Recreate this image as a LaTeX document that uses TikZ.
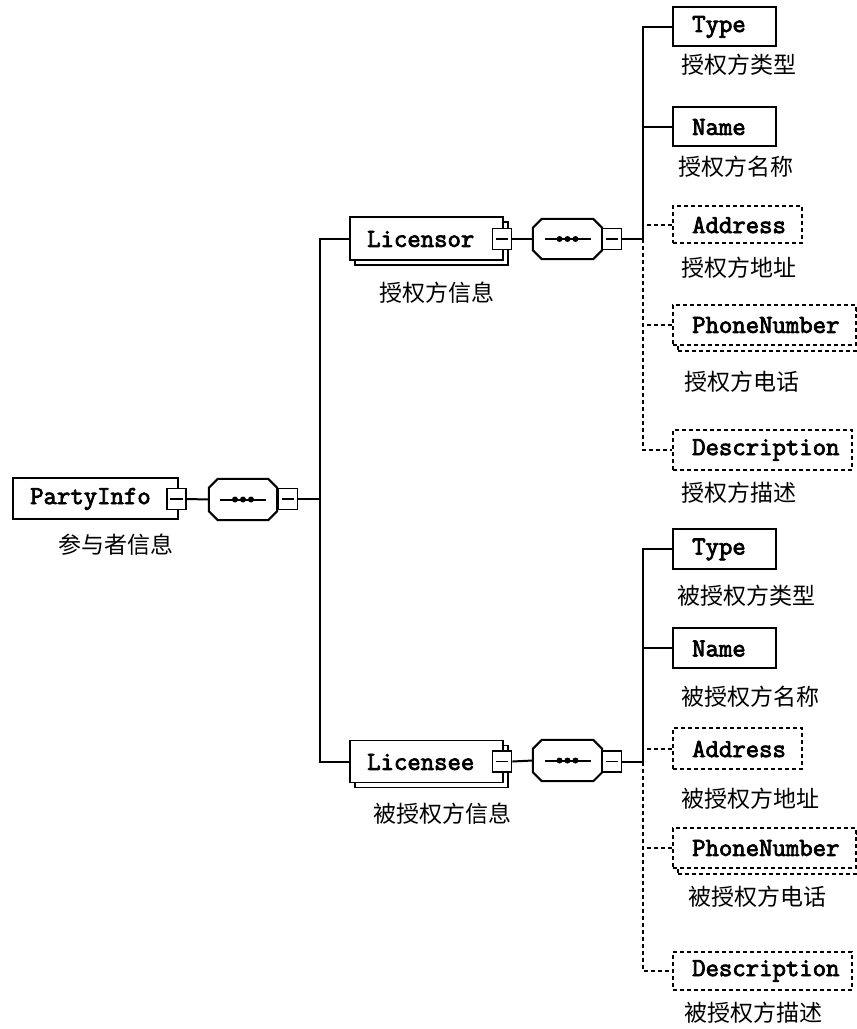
\documentclass[tikz,border=0pt]{standalone}
\usepackage{fontspec}
\newfontfamily\cjk{Noto Sans CJK SC}
\newfontfamily\elfont[FakeBold=3]{Latin Modern Mono}
\begin{document}
\begin{tikzpicture}[x=1pt,y=-1pt,
  ln/.style={line width=2pt},
  dln/.style={line width=2pt, dash pattern=on 4pt off 3pt},
  elbox/.style={draw, line width=1.8pt, fill=white, inner sep=0pt},
  optbox/.style={elbox, dash pattern=on 4pt off 3pt},
  minusbox/.style={draw, line width=1.8pt, fill=white, minimum width=19pt, minimum height=21pt, inner sep=0pt},
  area/.style={inner sep=0pt},
  elname/.style={anchor=west, inner sep=0pt, font=\elfont\fontsize{26}{26}\selectfont},
  lbl/.style={inner sep=0pt, font=\cjk\fontsize{23}{23}\selectfont}
]
\useasboundingbox (0,0) rectangle (857,1029);
\clip (0,0) rectangle (857,1029);
\newcommand\octo[1]{%
  \draw[ln,fill=white] ([xshift=9pt]#1.north west) -- ([xshift=-9pt]#1.north east) -- ([yshift=-9pt]#1.north east)
    -- ([yshift=9pt]#1.south east) -- ([xshift=-9pt]#1.south east) -- ([xshift=9pt]#1.south west)
    -- ([yshift=9pt]#1.south west) -- ([yshift=-9pt]#1.north west) -- cycle;
  \draw[ln] ([xshift=-23pt]#1.center) -- ([xshift=23pt]#1.center);
  \fill ([xshift=-8pt]#1.center) circle (3pt) (#1.center) circle (3pt) ([xshift=8pt]#1.center) circle (3pt);}
\newcommand\minus[1]{\draw[line width=1.8pt] ([xshift=4pt]#1.west) -- ([xshift=-4pt]#1.east);}

% ---------- root ----------
\node[elbox, minimum width=165pt, minimum height=41pt] (party) at (95.5,498.5) {};
\node[elname] (partyT) at (30,499) {PartyInfo};
\node[minusbox] (pm) at (176.5,499) {}; \minus{pm}
\node[area, minimum width=68pt, minimum height=41pt] (seq1) at (243,499.5) {}; \octo{seq1}
\node[minusbox] (s1m) at (288,499) {}; \minus{s1m}
\coordinate (j1) at (320,499);
\node[lbl] (partyL) at (116,545) {参与者信息};

% ---------- Licensor ----------
\node[elbox, minimum width=153pt, minimum height=43pt] (licsrS) at (431.5,243.5) {};
\node[elbox, minimum width=153pt, minimum height=43pt] (licsr) at (426.5,238.5) {};
\node[elname] (licsrT) at (367,239) {Licensor};
\node[minusbox] (lm1) at (502,239) {}; \minus{lm1}
\node[area, minimum width=69pt, minimum height=40pt] (seq2) at (567.5,239) {}; \octo{seq2}
\node[minusbox] (s2m) at (612,239) {}; \minus{s2m}
\coordinate (rt1) at (643,239);
\node[lbl] (licsrL) at (437,293) {授权方信息};

% ---------- Licensee ----------
\node[elbox, minimum width=153pt, minimum height=42pt] (licseS) at (431.5,766.5) {};
\node[elbox, minimum width=153pt, minimum height=42pt] (licse) at (426.5,761.5) {};
\node[elname] (licseT) at (367,762) {Licensee};
\node[minusbox] (lm2) at (502,761.5) {}; \minus{lm2}
\node[area, minimum width=69pt, minimum height=41pt] (seq3) at (567.5,760.5) {}; \octo{seq3}
\node[minusbox] (s3m) at (612,761.5) {}; \minus{s3m}
\coordinate (rt2) at (643,761.5);
\node[lbl] (licseL) at (442,814) {被授权方信息};

% ---------- Licensor children ----------
\node[elbox, minimum width=103pt, minimum height=39pt] (type1) at (724.5,26.5) {};
\node[elname] at (692,27) {Type};
\node[lbl] at (738.5,65) {授权方类型};
\node[elbox, minimum width=103pt, minimum height=39pt] (name1) at (724.5,126.5) {};
\node[elname] at (692,127) {Name};
\node[lbl] at (736,167) {授权方名称};
\node[optbox, minimum width=129pt, minimum height=37pt] (addr1) at (737.5,224.5) {};
\node[elname] at (692,225) {Address};
\node[lbl] at (738.5,268) {授权方地址};
\node[optbox, minimum width=183pt, minimum height=40pt] (phone1S) at (769.5,331) {};
\node[optbox, minimum width=183pt, minimum height=40pt] (phone1) at (764.5,325) {};
\node[elname] at (692,325) {PhoneNumber};
\node[lbl] at (742,382) {授权方电话};
\node[optbox, minimum width=179pt, minimum height=40pt] (desc1) at (762.5,450) {};
\node[elname] at (692,450) {Description};
\node[lbl] at (738.5,493) {授权方描述};

% ---------- Licensee children ----------
\node[elbox, minimum width=103pt, minimum height=40pt] (type2) at (724.5,549) {};
\node[elname] at (692,549.5) {Type};
\node[lbl] at (746,596) {被授权方类型};
\node[elbox, minimum width=103pt, minimum height=40pt] (name2) at (724.5,648) {};
\node[elname] at (692,648.5) {Name};
\node[lbl] at (750,697) {被授权方名称};
\node[optbox, minimum width=129pt, minimum height=41pt] (addr2) at (737.5,748.5) {};
\node[elname] at (692,749) {Address};
\node[lbl] at (750,799) {被授权方地址};
\node[optbox, minimum width=183pt, minimum height=40pt] (phone2S) at (769.5,854) {};
\node[optbox, minimum width=183pt, minimum height=40pt] (phone2) at (764.5,848) {};
\node[elname] at (692,848) {PhoneNumber};
\node[lbl] at (757,897) {被授权方电话};
\node[optbox, minimum width=179pt, minimum height=38pt] (desc2) at (762.5,971) {};
\node[elname] at (692,971) {Description};
\node[lbl] at (753,1013) {被授权方描述};

% ---------- connectors ----------
\draw[ln] (pm.east) -- (seq1.west);
\draw[ln] (s1m.east) -- (j1);
\draw[ln] (licsr.west) -| (j1) |- (licse.west);
\draw[ln] (lm1.east) -- (seq2.west);
\draw[ln] (s2m.east) -- (rt1);
\draw[ln] (lm2.east) -- (seq3.west);
\draw[ln] (s3m.east) -- (rt2);

\draw[ln] (type1.west) -| (rt1);
\draw[ln] (name1.west) -- (name1.west -| rt1);
\draw[dln] (rt1) |- (desc1.west);
\draw[dln] (addr1.west) -- (addr1.west -| rt1);
\draw[dln] (phone1.west) -- (phone1.west -| rt1);

\draw[ln] (type2.west) -| (rt2);
\draw[ln] (name2.west) -- (name2.west -| rt2);
\draw[dln] (rt2) |- (desc2.west);
\draw[dln] (addr2.west) -- (addr2.west -| rt2);
\draw[dln] (phone2.west) -- (phone2.west -| rt2);
\end{tikzpicture}
\end{document}
